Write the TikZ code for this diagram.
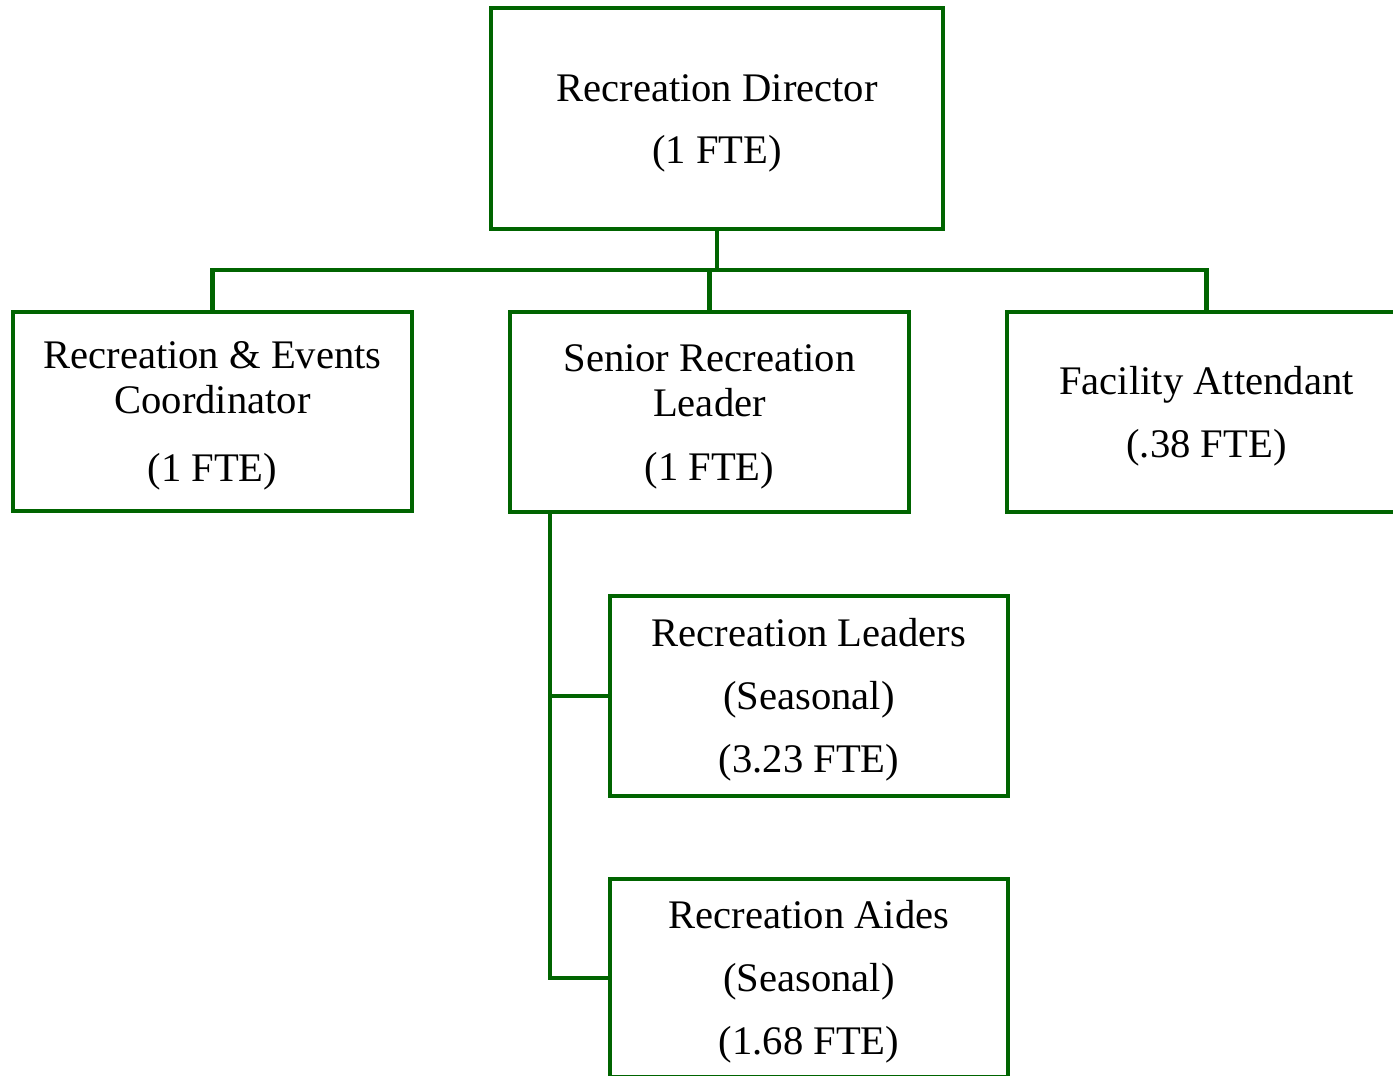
\documentclass[tikz,border=0pt]{standalone}
\usepackage{fontspec}
\setmainfont{Liberation Serif}
\definecolor{orggreen}{RGB}{0,100,0}
\newcommand{\topgap}{\rule{0pt}{18pt}}
\begin{document}
\begin{tikzpicture}[x=0.5pt,y=-0.5pt,
  box/.style={draw=orggreen, line width=2.4pt, align=center, inner sep=0pt,
    minimum width=199.5pt, minimum height=100pt,
    font=\fontsize{20.3}{22.5}\selectfont},
  conn/.style={draw=orggreen, line width=2.4pt}]
\clip (0,0) rectangle (1393,1076);
\useasboundingbox (0,0) rectangle (1393,1076);
\node[box, minimum width=226pt, minimum height=110.5pt] (dir) at (717,118.5)
  {\topgap Recreation Director\\[8.5pt](1 FTE)};
\node[box, minimum height=99.5pt] (b1) at (212.5,411.5)
  {\topgap Recreation \& Events\\Coordinator\\[11.5pt](1 FTE)};
\node[box] (b2) at (709.5,412)
  {\topgap Senior Recreation\\Leader\\[9.5pt](1 FTE)};
\node[box] (b3) at (1206.5,412)
  {\topgap Facility Attendant\\[9pt](.38 FTE)};
\node[box, minimum width=199pt] (b4) at (809,696)
  {\topgap Recreation Leaders\\[9pt](Seasonal)\\[9pt](3.23 FTE)};
\node[box, minimum width=199pt, minimum height=99pt] (b5) at (809,978)
  {\topgap Recreation Aides\\[9pt](Seasonal)\\[9pt](1.68 FTE)};
\coordinate (bus) at (717,270);
\coordinate (trunk) at (550,512);
\draw[conn] (dir.south) -- (bus);
\draw[conn] (b1.north) |- (bus) -| (b3.north);
\draw[conn] (b2.north) -- (b2.north |- bus);
\draw[conn] (trunk) |- (b5.west);
\draw[conn] (b4.west) -- (b4.west -| trunk);
\end{tikzpicture}
\end{document}
